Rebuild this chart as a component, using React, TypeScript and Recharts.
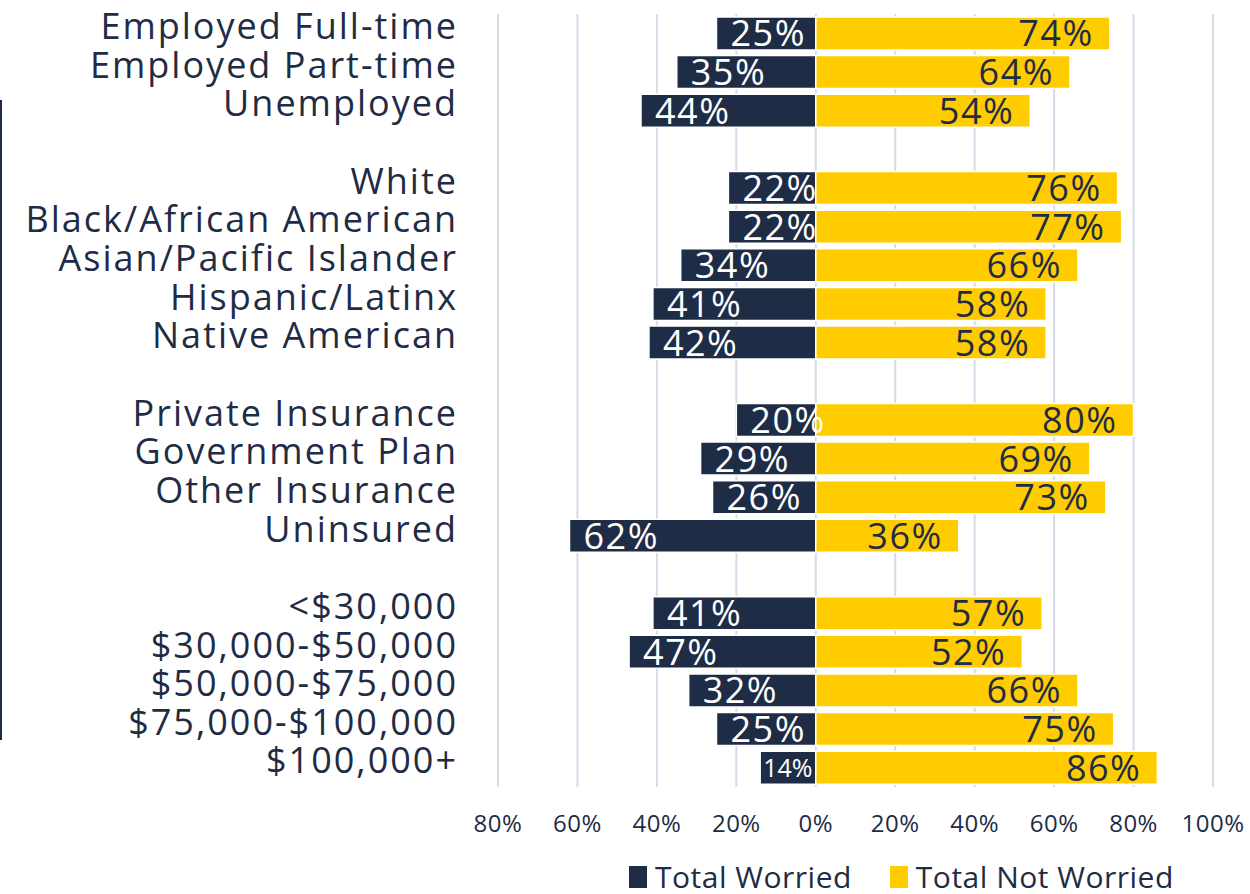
import { BarChart, Bar, XAxis, YAxis, CartesianGrid, Legend, LabelList } from "recharts"

const categories = [
    "Employed Full-time", "Employed Part-time", "Unemployed", "",
    "White", "Black/African American", "Asian/Pacific Islander", "Hispanic/Latinx", "Native American", "",
    "Private Insurance", "Government Plan", "Other Insurance", "Uninsured", "",
    "<$30,000", "$30,000-$50,000", "$50,000-$75,000", "$75,000-$100,000", "$100,000+",
]
const worried = [25, 35, 44, null, 22, 22, 34, 41, 42, null, 20, 29, 26, 62, null, 41, 47, 32, 25, 14]
const notWorried = [74, 64, 54, null, 76, 77, 66, 58, 58, null, 80, 69, 73, 36, null, 57, 52, 66, 75, 86]
const xTicks = [-80, -60, -40, -20, 0, 20, 40, 60, 80, 100]

const NAVY = "#1f2c45"
const GOLD = "#ffcc00"
const FONT = "'Open Sans', sans-serif"

const data = categories.map((name, i) => ({
    key: `row${i}`,
    name,
    worried: worried[i] == null ? null : -(worried[i] as number),
    notWorried: notWorried[i],
}))

function WorriedLabel(props: any) {
    const { x, y, width, height, value } = props
    if (value == null) return null
    const left = Math.min(x, x + width)
    const small = Math.abs(value) < 15
    return (
        <text x={left + (small ? 3 : 14)} y={y + height / 2} dy="0.36em" textAnchor="start" fill="#ffffff"
            fontFamily={FONT} fontSize={small ? 25 : 36} letterSpacing={small ? 0 : 1.5}>
            {Math.abs(value)}%
        </text>
    )
}

function NotWorriedLabel(props: any) {
    const { x, y, width, height, value } = props
    if (value == null) return null
    const right = Math.max(x, x + width)
    return (
        <text x={right - 16} y={y + height / 2} dy="0.36em" textAnchor="end" fill={NAVY}
            fontFamily={FONT} fontSize={36} letterSpacing={1.5}>
            {value}%
        </text>
    )
}

function LegendContent() {
    const item = (color: string, text: string) => (
        <div style={{ display: 'flex', alignItems: 'center', marginRight: 38 }}>
            <div style={{ width: 18, height: 22, background: color, marginRight: 8 }} />
            <span style={{ fontFamily: FONT, fontSize: 30, letterSpacing: 0.5, color: NAVY, lineHeight: '30px' }}>{text}</span>
        </div>
    )
    return (
        <div style={{ display: 'flex', whiteSpace: 'nowrap' }}>
            {item(NAVY, "Total Worried")}
            {item(GOLD, "Total Not Worried")}
        </div>
    )
}

export default function App() {
    return (
        <div style={{ position: 'absolute', left: 0, top: 0, width: 1250, height: 894, background: '#fff' }}>
            <div style={{ position: 'absolute', left: 0, top: 100, width: 2, height: 640, background: NAVY }} />
            <BarChart
                layout="vertical"
                width={1250} height={894} data={data}
                stackOffset="sign"
                barCategoryGap="7.5%"
                margin={{ top: 14, right: 37, left: 0, bottom: 60 }}
            >
                <CartesianGrid horizontal={false} stroke="#d5dce8" strokeWidth={2} />
                <XAxis
                    type="number"
                    domain={[-80, 100]}
                    ticks={xTicks}
                    height={47}
                    axisLine={false}
                    tickLine={false}
                    tickSize={0}
                    tickMargin={28}
                    tick={{ fill: NAVY, fontSize: 24, fontFamily: FONT, letterSpacing: 0.5 }}
                    tickFormatter={(v) => `${Math.abs(v)}%`}
                />
                <YAxis
                    type="category"
                    dataKey="key"
                    width={498}
                    axisLine={false}
                    tickLine={false}
                    tickSize={0}
                    tickMargin={40}
                    interval={0}
                    tick={{ fill: NAVY, fontSize: 36, fontFamily: FONT, letterSpacing: 2, dy: -7 }}
                    tickFormatter={(_v, i) => categories[i]}
                />
                <Legend
                    layout="horizontal"
                    verticalAlign="middle"
                    content={<LegendContent />}
                    wrapperStyle={{ left: 629, top: 862, width: 'auto' }}
                />
                <Bar dataKey="worried" stackId="a" fill={NAVY} stroke="#ffffff" strokeWidth={1.5} isAnimationActive={false}>
                    <LabelList dataKey="worried" content={<WorriedLabel />} />
                </Bar>
                <Bar dataKey="notWorried" stackId="a" fill={GOLD} stroke="#ffffff" strokeWidth={1.5} isAnimationActive={false}>
                    <LabelList dataKey="notWorried" content={<NotWorriedLabel />} />
                </Bar>
            </BarChart>
        </div>
    )
}
